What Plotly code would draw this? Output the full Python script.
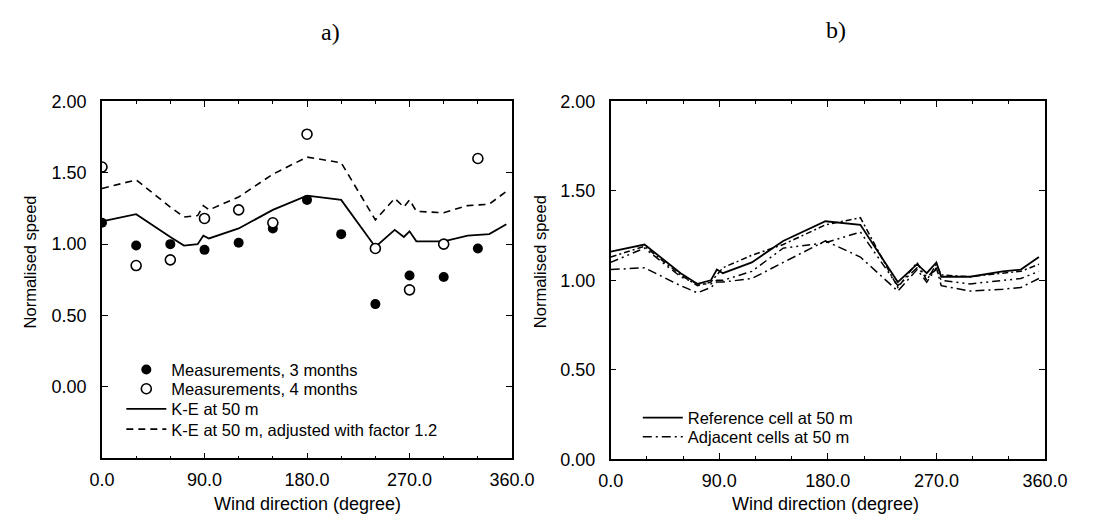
import plotly.graph_objects as go

W, H = 1096, 526

# ---- Panel a) data ----
meas3_deg = [0, 30, 60, 90, 120, 150, 180, 210, 240, 270, 300, 330]
meas3_val = [1.15, 0.99, 1.00, 0.96, 1.01, 1.11, 1.31, 1.07, 0.58, 0.78, 0.77, 0.97]

meas4_deg = [0, 30, 60, 90, 120, 150, 180, 240, 270, 300, 330]
meas4_val = [1.54, 0.85, 0.89, 1.18, 1.24, 1.15, 1.77, 0.97, 0.68, 1.00, 1.60]

ke_deg = [0, 30, 60, 72, 84, 89, 94, 120, 150, 180, 210, 240, 257, 265, 270, 276, 300, 321, 340, 355]
ke_val = [1.16, 1.21, 1.05, 0.99, 1.00, 1.06, 1.04, 1.11, 1.24, 1.34, 1.31, 0.98, 1.10, 1.05, 1.09, 1.02,
          1.02, 1.06, 1.07, 1.14]
ke_adj_val = [1.39, 1.45, 1.26, 1.19, 1.20, 1.27, 1.24, 1.33, 1.49, 1.61, 1.57, 1.17, 1.32, 1.26, 1.31,
              1.23, 1.22, 1.27, 1.28, 1.37]

# ---- Panel b) data ----
ref_deg = [0, 28, 58, 72, 83, 88, 93, 117, 143, 178, 207, 238, 254, 262, 270, 274, 298, 325, 340, 355]
ref_val = [1.16, 1.20, 1.04, 0.98, 1.00, 1.06, 1.04, 1.10, 1.22, 1.33, 1.31, 0.99, 1.09, 1.04, 1.10, 1.02,
           1.02, 1.05, 1.06, 1.13]
adj1_val = [1.06, 1.07, 0.97, 0.93, 0.96, 0.99, 0.99, 1.01, 1.10, 1.22, 1.13, 0.94, 1.06, 0.99, 1.07, 0.97,
            0.94, 0.95, 0.96, 1.01]
adj2_val = [1.13, 1.19, 1.03, 0.97, 0.99, 1.03, 1.07, 1.14, 1.20, 1.31, 1.35, 0.96, 1.10, 1.00, 1.09, 1.03,
            1.02, 1.04, 1.05, 1.09]
adj3_val = [1.10, 1.18, 1.02, 0.98, 0.98, 1.00, 1.00, 1.05, 1.18, 1.21, 1.27, 0.97, 1.07, 1.02, 1.06, 1.00,
            0.98, 1.00, 1.01, 1.05]

x_ticks = [0, 90, 180, 270, 360]
x_ticktext = ["0.0", "90.0", "180.0", "270.0", "360.0"]
y_ticks = [0, 0.5, 1.0, 1.5, 2.0]
y_ticktext = ["0.00", "0.50", "1.00", "1.50", "2.00"]

FONT = "Liberation Sans, Arial, sans-serif"
LEG_FONT = dict(family=FONT, size=16.5, color="black")

fig = go.Figure()

# Panel a lines
fig.add_trace(go.Scatter(x=ke_deg, y=ke_val, mode="lines", name="K-E at 50 m",
                         line=dict(color="black", width=1.8),
                         xaxis="x", yaxis="y", legend="legend3"))
fig.add_trace(go.Scatter(x=ke_deg, y=ke_adj_val, mode="lines",
                         name="K-E at 50 m, adjusted with factor 1.2",
                         line=dict(color="black", width=1.6, dash="7px,5px"),
                         xaxis="x", yaxis="y", legend="legend4"))
# Panel a markers
fig.add_trace(go.Scatter(x=meas3_deg, y=meas3_val, mode="markers", name="Measurements, 3 months",
                         marker=dict(symbol="circle", size=10, color="black"),
                         xaxis="x", yaxis="y", legend="legend"))
fig.add_trace(go.Scatter(x=meas4_deg, y=meas4_val, mode="markers", name="Measurements, 4 months",
                         marker=dict(symbol="circle", size=10, color="white",
                                     line=dict(color="black", width=1.6)),
                         xaxis="x", yaxis="y", legend="legend2"))

# Panel b
fig.add_trace(go.Scatter(x=ref_deg, y=adj1_val, mode="lines", name="Adjacent cells at 50 m",
                         line=dict(color="black", width=1.5, dash="9px,4px,2px,4px"),
                         xaxis="x2", yaxis="y2", legend="legend6"))
fig.add_trace(go.Scatter(x=ref_deg, y=adj2_val, mode="lines", name="Adjacent cells at 50 m",
                         line=dict(color="black", width=1.5, dash="6px,3px,2px,3px"), showlegend=False,
                         xaxis="x2", yaxis="y2"))
fig.add_trace(go.Scatter(x=ref_deg, y=adj3_val, mode="lines", name="Adjacent cells at 50 m",
                         line=dict(color="black", width=1.5, dash="8px,4px,2px,4px,2px,4px"), showlegend=False,
                         xaxis="x2", yaxis="y2"))
fig.add_trace(go.Scatter(x=ref_deg, y=ref_val, mode="lines", name="Reference cell at 50 m",
                         line=dict(color="black", width=1.8),
                         xaxis="x2", yaxis="y2", legend="legend5"))

axis_common = dict(showline=True, linecolor="black", linewidth=1.5, mirror="ticks",
                   ticks="inside", ticklen=6, tickwidth=1.3, tickcolor="black",
                   showgrid=False, zeroline=False,
                   tickfont=dict(family=FONT, size=18, color="black"))

xaxis_common = dict(axis_common, range=[0, 360], tickmode="array", tickvals=x_ticks,
                    ticktext=x_ticktext, ticklabelstandoff=4,
                    minor=dict(ticks="inside", ticklen=3, tickwidth=1, tickcolor="black",
                               dtick=30, tick0=0, showgrid=False))
yaxis_common = dict(axis_common, tickmode="array", tickvals=y_ticks, ticktext=y_ticktext,
                    ticklabelstandoff=10)


def leg(xpx, ypx):
    return dict(x=xpx / W, y=1 - ypx / H, xanchor="left", yanchor="middle",
                bgcolor="rgba(0,0,0,0)", font=LEG_FONT, itemwidth=40, borderwidth=0)


fig.update_layout(
    width=W, height=H, autosize=False,
    margin=dict(l=0, r=0, t=0, b=0),
    paper_bgcolor="white", plot_bgcolor="white",
    font=dict(family=FONT, color="black"),
    xaxis=dict(xaxis_common, domain=[92 / W, 516 / W], anchor="y"),
    yaxis=dict(yaxis_common, domain=[1 - 466 / H, 1 - 95 / H], range=[-0.5, 2.0], anchor="x"),
    xaxis2=dict(xaxis_common, domain=[618 / W, 1067 / W], anchor="y2"),
    yaxis2=dict(yaxis_common, domain=[1 - 467 / H, 1 - 95 / H], range=[0, 2.0], anchor="x2"),
    legend=leg(112, 374),
    legend2=leg(112, 394),
    legend3=leg(112, 415),
    legend4=leg(112, 436),
    legend5=leg(646, 424),
    legend6=leg(646, 444),
    showlegend=True,
)

annotations = [
    dict(text="a)", x=328 / W, y=1 - 23 / H, xref="paper", yref="paper", showarrow=False,
         font=dict(family="Liberation Serif, DejaVu Serif, serif", size=24, color="black"),
         xanchor="center", yanchor="middle"),
    dict(text="b)", x=851 / W, y=1 - 21 / H, xref="paper", yref="paper", showarrow=False,
         font=dict(family="Liberation Serif, DejaVu Serif, serif", size=24, color="black"),
         xanchor="center", yanchor="middle"),
    dict(text="Wind direction (degree)", x=304 / W, y=1 - 514 / H, xref="paper", yref="paper",
         showarrow=False, font=dict(family=FONT, size=18, color="black"),
         xanchor="center", yanchor="middle"),
    dict(text="Wind direction (degree)", x=840 / W, y=1 - 514 / H, xref="paper", yref="paper",
         showarrow=False, font=dict(family=FONT, size=18, color="black"),
         xanchor="center", yanchor="middle"),
    dict(text="Normalised speed", x=18 / W, y=1 - 262 / H, xref="paper", yref="paper",
         showarrow=False, textangle=-90, font=dict(family=FONT, size=16.5, color="black"),
         xanchor="center", yanchor="middle"),
    dict(text="Normalised speed", x=545 / W, y=1 - 262 / H, xref="paper", yref="paper",
         showarrow=False, textangle=-90, font=dict(family=FONT, size=16.5, color="black"),
         xanchor="center", yanchor="middle"),
]
fig.update_layout(annotations=annotations)

fig.write_html("out.html")
